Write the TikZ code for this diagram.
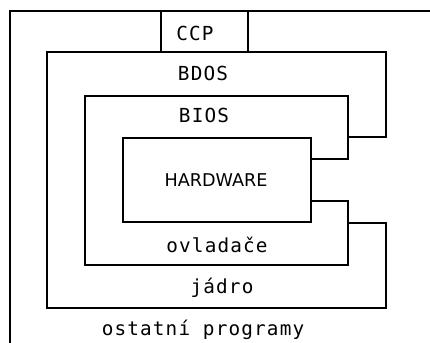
\documentclass[tikz,border=0pt]{standalone}
\usepackage{fontspec}
\setmainfont{DejaVu Sans}
\newfontfamily\vrstvafont[LetterSpace=6]{DejaVu Sans Mono}

\begin{document}
\begin{tikzpicture}[x=0.75pt,y=-0.75pt,
  vrstva/.style={draw=black,line width=1.4pt,line join=miter},
  popis/.style={anchor=base,inner sep=0pt,font=\vrstvafont\fontsize{14.5}{16}\selectfont},
  hwpopis/.style={anchor=base,inner sep=0pt,font=\fontsize{13.2}{15}\selectfont}]
\fill[white] (0,0) rectangle (430,343);
\useasboundingbox (0,0) rectangle (430,343);
% ostatni programy (outer frame)
\draw[line width=1.6pt] (10,345) -- (10,11) -- (432,11);
% CCP
\draw[vrstva] (161,11) rectangle (248,52);
% BDOS
\draw[vrstva] (348,137) -- (386,137) -- (386,52) -- (47,52) -- (47,308)
  -- (386,308) -- (386,223) -- (348,223);
% BIOS
\draw[vrstva] (311,159) -- (348,159) -- (348,96) -- (85,96) -- (85,265)
  -- (348,265) -- (348,201) -- (311,201);
% HARDWARE
\draw[vrstva] (123,138) rectangle (311,222);
%
\node (ccp) [popis] at (195,40) {CCP};
\node (bdos) [popis] at (203,80) {BDOS};
\node (bios) [popis] at (204,122) {BIOS};
\node (hw) [hwpopis] at (216,186) {HARDWARE};
\node (ovl) [popis] at (217,252) {ovladače};
\node (jadro) [popis] at (222,293) {jádro};
\node (ost) [popis] at (203,335) {ostatní programy};
\end{tikzpicture}
\end{document}
